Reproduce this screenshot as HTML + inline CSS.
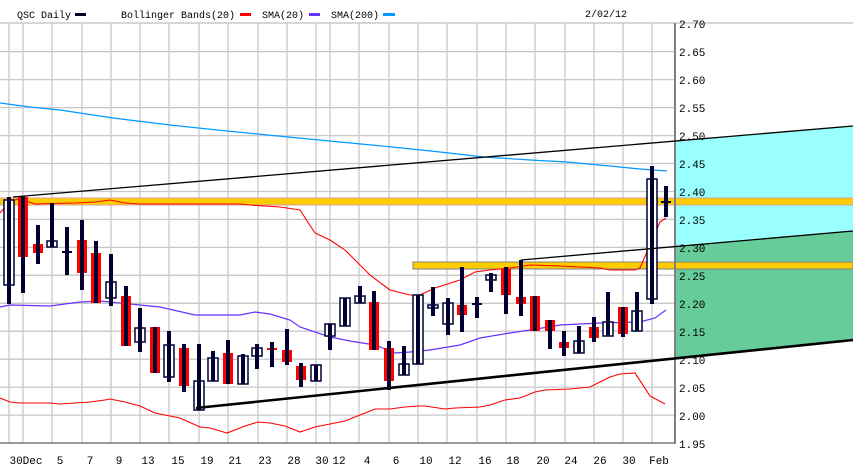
<!DOCTYPE html>
<html><head><meta charset="utf-8"><style>
html,body{margin:0;padding:0;background:#fff;}
svg{display:block;}
text{font-family:"Liberation Mono",monospace;}
</style></head><body>
<svg width="853" height="465" viewBox="0 0 853 465" xmlns="http://www.w3.org/2000/svg">
<rect width="853" height="465" fill="#fff"/>
<!-- header -->
<g font-size="10" fill="#000">
<text x="17" y="18">QSC Daily</text>
<rect x="75" y="13" width="11" height="3" fill="#000033"/>
<text x="121" y="18">Bollinger Bands(20)</text>
<rect x="240" y="13" width="11" height="3" fill="#ff0000"/>
<text x="262" y="18">SMA(20)</text>
<rect x="309" y="13" width="11" height="3" fill="#6633ff"/>
<text x="331" y="18">SMA(200)</text>
<rect x="383" y="13" width="12" height="3" fill="#0099ff"/>
<text x="585" y="17">2/02/12</text>
</g>
<line x1="0" y1="23" x2="853" y2="23" stroke="#c8c8c8" stroke-width="1.5"/>
<!-- grid -->
<g stroke="#c8c8c8" stroke-width="1.3">
<line x1="0" y1="51.6" x2="675" y2="51.6"/><line x1="0" y1="79.6" x2="675" y2="79.6"/>
<line x1="0" y1="107.6" x2="675" y2="107.6"/><line x1="0" y1="135.6" x2="675" y2="135.6"/>
<line x1="0" y1="163.5" x2="675" y2="163.5"/><line x1="0" y1="191.5" x2="675" y2="191.5"/>
<line x1="0" y1="219.4" x2="675" y2="219.4"/><line x1="0" y1="247.4" x2="675" y2="247.4"/>
<line x1="0" y1="275.3" x2="675" y2="275.3"/><line x1="0" y1="303.3" x2="675" y2="303.3"/>
<line x1="0" y1="331.2" x2="675" y2="331.2"/><line x1="0" y1="359.2" x2="675" y2="359.2"/>
<line x1="0" y1="387.1" x2="675" y2="387.1"/><line x1="0" y1="415.1" x2="675" y2="415.1"/>
<line x1="9" y1="23" x2="9" y2="443"/><line x1="23" y1="23" x2="23" y2="443"/>
<line x1="52" y1="23" x2="52" y2="443"/><line x1="82" y1="23" x2="82" y2="443"/>
<line x1="111" y1="23" x2="111" y2="443"/><line x1="140" y1="23" x2="140" y2="443"/>
<line x1="169" y1="23" x2="169" y2="443"/><line x1="199" y1="23" x2="199" y2="443"/>
<line x1="228" y1="23" x2="228" y2="443"/><line x1="258" y1="23" x2="258" y2="443"/>
<line x1="287" y1="23" x2="287" y2="443"/><line x1="316" y1="23" x2="316" y2="443"/>
<line x1="330" y1="23" x2="330" y2="443"/><line x1="359" y1="23" x2="359" y2="443"/>
<line x1="389" y1="23" x2="389" y2="443"/><line x1="418" y1="23" x2="418" y2="443"/>
<line x1="447" y1="23" x2="447" y2="443"/><line x1="477" y1="23" x2="477" y2="443"/>
<line x1="506" y1="23" x2="506" y2="443"/><line x1="535" y1="23" x2="535" y2="443"/>
<line x1="565" y1="23" x2="565" y2="443"/><line x1="594" y1="23" x2="594" y2="443"/>
<line x1="623" y1="23" x2="623" y2="443"/><line x1="652" y1="23" x2="652" y2="443"/>
</g>
<!-- right fills -->
<polygon points="675,141 853,126 853,231 675,246" fill="#99ffff"/>
<polygon points="675,246 853,231 853,340 675,359" fill="#66cc99"/>
<!-- orange bands -->
<rect x="0" y="198" width="853" height="7" fill="#ffcc00" stroke="#d8a0a0" stroke-width="1"/>
<rect x="413" y="262" width="440" height="7" fill="#ffcc00" stroke="#808080" stroke-width="1"/>
<!-- axes -->
<line x1="0" y1="443" x2="675" y2="443" stroke="#999" stroke-width="2"/>
<line x1="675" y1="23" x2="675" y2="444" stroke="#808080" stroke-width="2"/>
<!-- SMA200 -->
<polyline fill="none" stroke="#0099ff" stroke-width="1.2" points="0,103 30,107 60,110 113,118 170,125 227,131 288,137 340,142 392,147 440,152 484,157 530,160 567,162 610,166 640,169 667,171"/>
<!-- SMA20 -->
<polyline fill="none" stroke="#6633ff" stroke-width="1.2" points="0,307 10,305 50,306 80,302 100,301 130,304 160,307 195,315 240,315 255,312 270,314 290,320 300,327 330,337 350,341 375,345 395,353 410,352 430,350 460,345 480,338 510,333 530,330 560,325 600,323 640,322 655,318 666,310"/>
<!-- Bollinger upper -->
<polyline fill="none" stroke="#ff0000" stroke-width="1.1" points="0,213 10,201 20,199 35,204 75,203 95,202 110,200 125,203 140,204 240,204 250,205 280,207 300,210 315,233 330,240 345,250 370,275 390,290 410,295 420,295 435,288 460,280 475,272 490,270 510,268 530,265 560,266 600,268 610,270 635,270 640,268 650,245 660,222 666,218"/>
<!-- Bollinger lower -->
<polyline fill="none" stroke="#ff0000" stroke-width="1.1" points="0,398 10,402 20,403 50,403 60,404 90,402 105,400 110,399 125,402 140,406 155,413 180,418 200,427 210,428 227,433 245,426 258,422 270,423 285,426 300,432 315,427 330,424 345,421 360,415 375,409 390,409 405,407 418,406 425,406 445,409 455,408 480,407 490,405 505,400 520,398 535,392 545,390 570,389 590,387 600,382 610,377 620,374 635,373 650,396 665,404"/>
<!-- candles -->
<g stroke="#000033">
<rect x="4" y="200" width="10" height="85" fill="#fff" stroke-width="1.5"/><line x1="9" y1="197" x2="9" y2="304" stroke-width="4"/>
<rect x="18" y="197" width="10" height="60" fill="#f00" stroke="none"/><line x1="23" y1="196" x2="23" y2="293" stroke-width="4"/>
<rect x="33" y="244" width="10" height="9" fill="#f00" stroke="none"/><line x1="38" y1="225" x2="38" y2="264" stroke-width="4"/>
<rect x="47" y="241" width="10" height="6" fill="#fff" stroke-width="1.5"/><line x1="52" y1="203" x2="52" y2="247" stroke-width="4"/>
<line x1="62" y1="252" x2="72" y2="252" stroke-width="2"/><line x1="67" y1="227" x2="67" y2="275" stroke-width="4"/>
<rect x="77" y="240" width="10" height="33" fill="#f00" stroke="none"/><line x1="82" y1="220" x2="82" y2="290" stroke-width="4"/>
<rect x="91" y="253" width="10" height="50" fill="#f00" stroke="none"/><line x1="96" y1="241" x2="96" y2="303" stroke-width="4"/>
<rect x="106" y="282" width="10" height="16" fill="#fff" stroke-width="1.5"/><line x1="111" y1="254" x2="111" y2="306" stroke-width="4"/>
<rect x="121" y="296" width="10" height="50" fill="#f00" stroke="none"/><line x1="126" y1="286" x2="126" y2="346" stroke-width="4"/>
<rect x="135" y="328" width="10" height="14" fill="#fff" stroke-width="1.5"/><line x1="140" y1="308" x2="140" y2="352" stroke-width="4"/>
<rect x="150" y="327" width="10" height="46" fill="#f00" stroke="none"/><line x1="155" y1="327" x2="155" y2="373" stroke-width="4"/>
<rect x="164" y="345" width="10" height="32" fill="#fff" stroke-width="1.5"/><line x1="169" y1="331" x2="169" y2="382" stroke-width="4"/>
<rect x="179" y="348" width="10" height="38" fill="#f00" stroke="none"/><line x1="184" y1="344" x2="184" y2="392" stroke-width="4"/>
<rect x="194" y="381" width="10" height="29" fill="#fff" stroke-width="1.5"/><line x1="199" y1="344" x2="199" y2="410" stroke-width="4"/>
<rect x="208" y="358" width="10" height="23" fill="#fff" stroke-width="1.5"/><line x1="213" y1="351" x2="213" y2="381" stroke-width="4"/>
<rect x="223" y="353" width="10" height="31" fill="#f00" stroke="none"/><line x1="228" y1="340" x2="228" y2="384" stroke-width="4"/>
<rect x="238" y="356" width="10" height="28" fill="#fff" stroke-width="1.5"/><line x1="243" y1="354" x2="243" y2="384" stroke-width="4"/>
<rect x="252" y="348" width="10" height="8" fill="#fff" stroke-width="1.5"/><line x1="257" y1="344" x2="257" y2="369" stroke-width="4"/>
<rect x="267" y="348" width="10" height="2" fill="#f00" stroke="none"/><line x1="272" y1="342" x2="272" y2="367" stroke-width="4"/>
<rect x="282" y="350" width="10" height="12" fill="#f00" stroke="none"/><line x1="287" y1="329" x2="287" y2="365" stroke-width="4"/>
<rect x="296" y="366" width="10" height="14" fill="#f00" stroke="none"/><line x1="301" y1="363" x2="301" y2="387" stroke-width="4"/>
<rect x="311" y="365" width="10" height="16" fill="#fff" stroke-width="1.5"/><line x1="316" y1="365" x2="316" y2="381" stroke-width="4"/>
<rect x="325" y="324" width="10" height="12" fill="#fff" stroke-width="1.5"/><line x1="330" y1="324" x2="330" y2="350" stroke-width="4"/>
<rect x="340" y="298" width="10" height="28" fill="#fff" stroke-width="1.5"/><line x1="345" y1="298" x2="345" y2="326" stroke-width="4"/>
<rect x="355" y="296" width="10" height="7" fill="#fff" stroke-width="1.5"/><line x1="360" y1="286" x2="360" y2="303" stroke-width="4"/>
<rect x="369" y="302" width="10" height="48" fill="#f00" stroke="none"/><line x1="374" y1="291" x2="374" y2="350" stroke-width="4"/>
<rect x="384" y="348" width="10" height="33" fill="#f00" stroke="none"/><line x1="389" y1="341" x2="389" y2="390" stroke-width="4"/>
<rect x="399" y="364" width="10" height="11" fill="#fff" stroke-width="1.5"/><line x1="404" y1="346" x2="404" y2="375" stroke-width="4"/>
<rect x="413" y="295" width="10" height="69" fill="#fff" stroke-width="1.5"/><line x1="418" y1="295" x2="418" y2="364" stroke-width="4"/>
<rect x="428" y="305" width="10" height="3" fill="#fff" stroke-width="1.5"/><line x1="433" y1="287" x2="433" y2="316" stroke-width="4"/>
<rect x="443" y="303" width="10" height="21" fill="#fff" stroke-width="1.5"/><line x1="448" y1="298" x2="448" y2="335" stroke-width="4"/>
<rect x="457" y="305" width="10" height="10" fill="#f00" stroke="none"/><line x1="462" y1="267" x2="462" y2="332" stroke-width="4"/>
<line x1="472" y1="304" x2="482" y2="304" stroke-width="2"/><line x1="477" y1="297" x2="477" y2="318" stroke-width="4"/>
<rect x="486" y="275" width="10" height="5" fill="#fff" stroke-width="1.5"/><line x1="491" y1="273" x2="491" y2="292" stroke-width="4"/>
<rect x="501" y="269" width="10" height="26" fill="#f00" stroke="none"/><line x1="506" y1="267" x2="506" y2="314" stroke-width="4"/>
<rect x="516" y="297" width="10" height="7" fill="#f00" stroke="none"/><line x1="521" y1="260" x2="521" y2="316" stroke-width="4"/>
<rect x="530" y="296" width="10" height="35" fill="#f00" stroke="none"/><line x1="535" y1="296" x2="535" y2="331" stroke-width="4"/>
<rect x="545" y="320" width="10" height="11" fill="#f00" stroke="none"/><line x1="550" y1="320" x2="550" y2="349" stroke-width="4"/>
<rect x="559" y="342" width="10" height="6" fill="#f00" stroke="none"/><line x1="564" y1="331" x2="564" y2="356" stroke-width="4"/>
<rect x="574" y="341" width="10" height="12" fill="#fff" stroke-width="1.5"/><line x1="579" y1="326" x2="579" y2="353" stroke-width="4"/>
<rect x="589" y="327" width="10" height="11" fill="#f00" stroke="none"/><line x1="594" y1="317" x2="594" y2="342" stroke-width="4"/>
<rect x="603" y="322" width="10" height="14" fill="#fff" stroke-width="1.5"/><line x1="608" y1="292" x2="608" y2="336" stroke-width="4"/>
<rect x="618" y="307" width="10" height="27" fill="#f00" stroke="none"/><line x1="623" y1="307" x2="623" y2="337" stroke-width="4"/>
<rect x="632" y="311" width="10" height="20" fill="#fff" stroke-width="1.5"/><line x1="637" y1="292" x2="637" y2="331" stroke-width="4"/>
<rect x="647" y="179" width="10" height="120" fill="#fff" stroke-width="1.5"/><line x1="652" y1="166" x2="652" y2="304" stroke-width="4"/>
<line x1="661" y1="202" x2="671" y2="202" stroke-width="2"/><line x1="666" y1="186" x2="666" y2="217" stroke-width="4"/>
</g>
<!-- trendlines -->
<line x1="13" y1="197" x2="853" y2="126" stroke="#000" stroke-width="1.3"/>
<line x1="521" y1="260" x2="853" y2="231" stroke="#000" stroke-width="1.3"/>
<line x1="196" y1="408" x2="853" y2="340" stroke="#000" stroke-width="2.6"/>
<!-- right labels -->
<g font-size="11" fill="#000">
<text x="679" y="28">2.70</text><text x="679" y="56">2.65</text><text x="679" y="84">2.60</text>
<text x="679" y="112">2.55</text><text x="679" y="140">2.50</text><text x="679" y="168">2.45</text>
<text x="679" y="196">2.40</text><text x="679" y="224">2.35</text><text x="679" y="252">2.30</text>
<text x="679" y="280">2.25</text><text x="679" y="308">2.20</text><text x="679" y="336">2.15</text>
<text x="679" y="364">2.10</text><text x="679" y="392">2.05</text><text x="679" y="420">2.00</text>
<text x="679" y="448">1.95</text>
</g>
<!-- date labels -->
<g font-size="11" fill="#000" text-anchor="middle" style="font-family:'Liberation Sans',sans-serif">
<text x="26" y="464">30Dec</text><text x="60" y="464">5</text><text x="90" y="464">7</text>
<text x="119" y="464">9</text><text x="148" y="464">13</text><text x="178" y="464">15</text>
<text x="207" y="464">19</text><text x="235" y="464">21</text><text x="265" y="464">23</text>
<text x="294" y="464">28</text><text x="322" y="464">30</text><text x="339" y="464">12</text>
<text x="367" y="464">4</text><text x="396" y="464">6</text><text x="426" y="464">10</text>
<text x="455" y="464">12</text><text x="485" y="464">16</text><text x="513" y="464">18</text>
<text x="543" y="464">20</text><text x="571" y="464">24</text><text x="600" y="464">26</text>
<text x="629" y="464">30</text><text x="659" y="464">Feb</text>
</g>
</svg>
</body></html>
